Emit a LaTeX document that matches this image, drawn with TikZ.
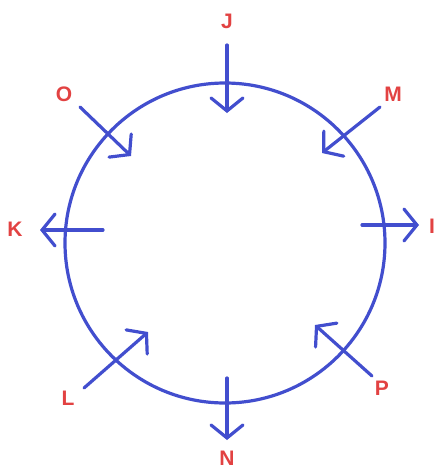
\documentclass[tikz,border=0pt]{standalone}
\usepackage{fontspec}
\setmainfont{Liberation Sans}
\usetikzlibrary{arrows.meta}
\definecolor{colRing}{RGB}{66,78,206}
\definecolor{colLabel}{RGB}{226,66,66}
\tikzset{
  % ring and arrows
  ring/.style={draw=colRing, line width=3.2pt},
  dirArr/.style={draw=colRing, line width=3.2pt, line cap=round,
                 -{Straight Barb[length=13pt, width=32pt, line cap=round]}},
  % letters
  lbl/.style={text=colLabel, font=\fontsize{21}{24}\selectfont\bfseries,
              inner sep=0pt},
}
\begin{document}
\begin{tikzpicture}[x=1pt, y=-1pt]
\useasboundingbox (0,0) rectangle (438,472);

% circle
\node[circle, minimum size=320pt, inner sep=0pt, ring] (ring) at (225,243) {};

% labels
\node[lbl] (J) at (227,21)  {J};
\node[lbl] (M) at (393,94)  {M};
\node[lbl] (O) at (64,94)   {O};
\node[lbl] (K) at (15,229)  {K};
\node[lbl] (I) at (432,226) {I};
\node[lbl] (L) at (68,398)  {L};
\node[lbl] (P) at (382,388) {P};
\node[lbl] (N) at (227,458) {N};

% arrow ends
\coordinate (jS) at (227,45);  \coordinate (jT) at (227,113);
\coordinate (mS) at (380,107); \coordinate (mT) at (322,153);
\coordinate (oS) at (80,107);  \coordinate (oT) at (131,156);
\coordinate (kS) at (103,230); \coordinate (kT) at (40,230);
\coordinate (iS) at (362,225); \coordinate (iT) at (419,225);
\coordinate (lS) at (84,388);  \coordinate (lT) at (148,332);
\coordinate (pS) at (372,376); \coordinate (pT) at (315,325);
\coordinate (nS) at (227,378); \coordinate (nT) at (227,440);

% arrows
\draw[dirArr] (jS) -- (jT);
\draw[dirArr] (mS) -- (mT);
\draw[dirArr] (oS) -- (oT);
\draw[dirArr] (kS) -- (kT);
\draw[dirArr] (iS) -- (iT);
\draw[dirArr] (lS) -- (lT);
\draw[dirArr] (pS) -- (pT);
\draw[dirArr] (nS) -- (nT);

\end{tikzpicture}
\end{document}
